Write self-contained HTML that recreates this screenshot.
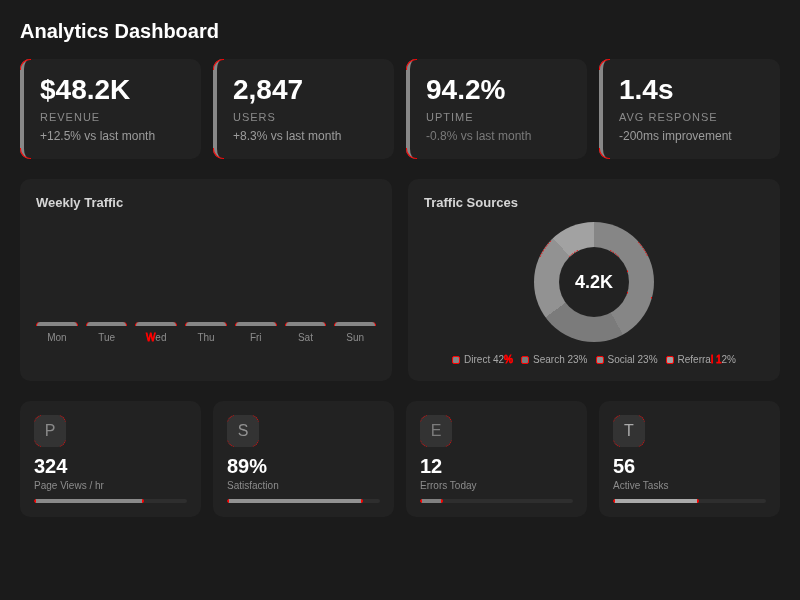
<!DOCTYPE html>
<html><head><meta charset="utf-8">
<style>
*{box-sizing:border-box;margin:0;padding:0}
html,body{width:800px;height:600px;overflow:hidden}
body{background:#1b1b1b;font-family:"Liberation Sans",sans-serif;color:#fff;padding:20px;position:relative}
#w{will-change:transform}
h1{font-size:20px;font-weight:bold;line-height:23px;margin-bottom:16px;color:#fff}
.stats{display:grid;grid-template-columns:repeat(4,1fr);gap:12px;margin-bottom:20px}
.stat{background:#222;border-radius:10px;border-left:4px solid #888;padding:15px 16px;height:100px}
.stat .v{font-size:28px;font-weight:bold;line-height:32px}
.stat .l{font-size:11px;letter-spacing:1px;color:#8a8a8a;margin-top:5px;line-height:13px;text-transform:uppercase}
.stat .d{font-size:12px;color:#9c9c9c;margin-top:5px;line-height:14px}
.stat .d.neg{color:#7a7a7a}
.mid{display:grid;grid-template-columns:1fr 1fr;gap:16px;margin-bottom:20px}
.panel{background:#222;border-radius:10px;padding:16px;height:202px;position:relative}
.panel h2{font-size:13px;font-weight:bold;color:#d6d6d6;line-height:15px}
.bars{position:absolute;left:16px;right:16px;top:143px;display:flex;gap:8px}
.bars .b{flex:1;text-align:center}
.bars .b i{display:block;height:4px;background:#868686;border-radius:4px 4px 0 0;border-left:1px solid #f00;border-right:1px solid #f00}
.bars .b span{display:block;font-size:10px;color:#8c8c8c;margin-top:6px;line-height:12px}
.donut{position:absolute;left:126px;top:43px;width:120px;height:120px;border-radius:50%;
background:conic-gradient(#868686 0 42%,#7b7b7b 42% 65%,#929292 65% 88%,#a2a2a2 88% 100%)}
.donut:after{content:"4.2K";position:absolute;left:25px;top:25px;width:70px;height:70px;border-radius:50%;background:#222;
color:#fff;font-size:18px;font-weight:bold;text-align:center;line-height:70px}
.legend{position:absolute;left:0;right:0;top:175px;display:flex;justify-content:center;gap:8px;font-size:10px;color:#a8a8a8;line-height:12px}
.legend span{display:flex;align-items:center}
.legend i{display:inline-block;width:8px;height:8px;border-radius:2px;background:#868686;margin-right:4px;border:1px solid #f00}
.bot{display:grid;grid-template-columns:repeat(4,1fr);gap:12px}
.mini{background:#222;border-radius:10px;padding:14px;height:116px}
.mini .ic{width:32px;height:32px;border-radius:8px;background:#333;color:#8c8c8c;font-size:16px;text-align:center;line-height:32px}
.mini .v{font-size:20px;font-weight:bold;line-height:23px;margin-top:8px}
.mini .l{font-size:10px;color:#8c8c8c;line-height:12px;margin-top:2px}
.mini .p{height:4px;border-radius:2px;background:#2e2e2e;margin-top:7px;overflow:hidden}
.mini .p i{display:block;height:4px;border-radius:2px;background:#8c8c8c}
.r{color:#f00;-webkit-text-stroke:0.8px #f00}
.mini .p i{border-left:2px solid #f00;border-right:2px solid #f00}
.stat{position:relative}
.stat:before,.stat:after{content:"";position:absolute;left:-4px;width:10px;height:10px;border:0 solid #f00;border-left-width:1px}
.stat:before{top:0;border-top-width:1px;border-top-left-radius:10px}
.stat:after{bottom:0;border-bottom-width:1px;border-bottom-left-radius:10px}
.mini .ic{position:relative}
.mini .ic:after{content:"";position:absolute;left:0;top:0;right:0;bottom:0;border:1px dotted #f00;border-radius:8px;-webkit-mask:linear-gradient(#000,#000) 0 0/7px 7px no-repeat,linear-gradient(#000,#000) 100% 0/7px 7px no-repeat,linear-gradient(#000,#000) 0 100%/7px 7px no-repeat,linear-gradient(#000,#000) 100% 100%/7px 7px no-repeat}
.sp{position:absolute;left:126px;top:43px}
</style></head><body>
<div id="w">
<h1>Analytics Dashboard</h1>
<div class="stats">
<div class="stat"><div class="v">$48.2K</div><div class="l">Revenue</div><div class="d">+12.5% vs last month</div></div>
<div class="stat"><div class="v">2,847</div><div class="l">Users</div><div class="d">+8.3% vs last month</div></div>
<div class="stat"><div class="v">94.2%</div><div class="l">Uptime</div><div class="d neg">-0.8% vs last month</div></div>
<div class="stat"><div class="v">1.4s</div><div class="l">Avg Response</div><div class="d">-200ms improvement</div></div>
</div>
<div class="mid">
<div class="panel"><h2>Weekly Traffic</h2>
<div class="bars">
<div class="b"><i></i><span>Mon</span></div><div class="b"><i></i><span>Tue</span></div><div class="b"><i></i><span><b class="r" style="font-weight:normal">W</b>ed</span></div><div class="b"><i></i><span>Thu</span></div><div class="b"><i></i><span>Fri</span></div><div class="b"><i></i><span>Sat</span></div><div class="b"><i></i><span>Sun</span></div>
</div></div>
<div class="panel"><h2>Traffic Sources</h2>
<div class="donut"></div><svg class="sp" width="120" height="120" viewBox="0 0 120 120"><path d="M6.1 34.9A59.5 59.5 0 0 1 17.2 18.7 M104.2 20.2A59.5 59.5 0 0 1 113.9 34.9 M35.3 34.5A35.5 35.5 0 0 1 44.4 28.1 M76.1 28.4A35.5 35.5 0 0 1 85.1 34.9" fill="none" stroke="#f00" stroke-width="1" stroke-dasharray="1.5 1.5"/><rect x="93" y="48.5" width="1" height="1.5" fill="#f00"/><rect x="93" y="70" width="1" height="1.5" fill="#f00"/><rect x="117" y="75" width="1" height="1.5" fill="#f00"/></svg>
<div class="legend"><span><i></i>Direct 42<b class="r" style="font-weight:normal">%</b></span><span><i style="background:#7b7b7b"></i>Search 23%</span><span><i style="background:#929292"></i>Social 23%</span><span><i style="background:#a2a2a2"></i>Referra<b class="r" style="font-weight:normal">l 1</b>2%</span></div>
</div>
</div>
<div class="bot">
<div class="mini"><div class="ic" style="color:#8a8a8a">P</div><div class="v">324</div><div class="l">Page Views / hr</div><div class="p"><i style="width:72%;background:#8a8a8a"></i></div></div>
<div class="mini"><div class="ic" style="color:#929292">S</div><div class="v">89%</div><div class="l">Satisfaction</div><div class="p"><i style="width:89%;background:#929292"></i></div></div>
<div class="mini"><div class="ic" style="color:#7c7c7c">E</div><div class="v">12</div><div class="l">Errors Today</div><div class="p"><i style="width:15%;background:#808080"></i></div></div>
<div class="mini"><div class="ic" style="color:#aaaaaa">T</div><div class="v">56</div><div class="l">Active Tasks</div><div class="p"><i style="width:56%;background:#aaaaaa"></i></div></div>
</div>
</div>
</body></html>
